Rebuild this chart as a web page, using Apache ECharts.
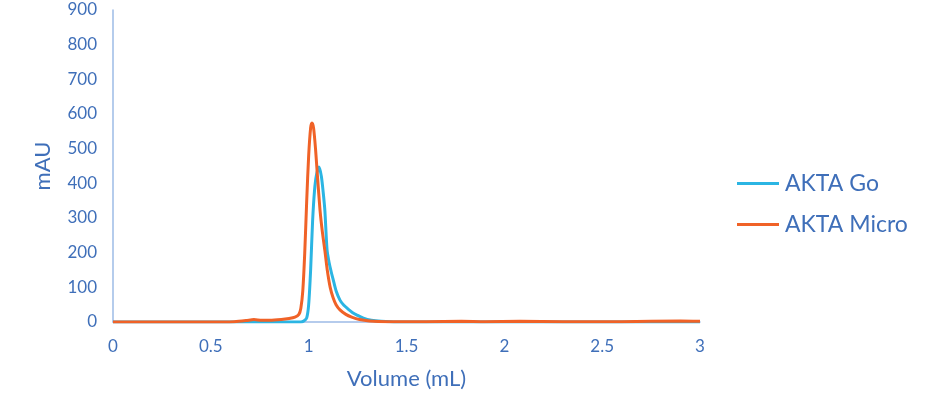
<!DOCTYPE html>
<html><head><meta charset="utf-8">
<script src="https://cdn.jsdelivr.net/npm/echarts@6/dist/echarts.min.js"></script>
<style>html,body{margin:0;padding:0;background:#fff}#c{width:940px;height:394px}</style>
</head><body><div id="c"></div>
<script>
const seriesNames = ['AKTA Go', 'AKTA Micro'];
const goX = [0, 0.5, 0.9, 0.96, 0.975, 0.99, 1.0, 1.01, 1.02, 1.03, 1.04, 1.053, 1.065, 1.075, 1.083, 1.094, 1.105, 1.115, 1.124, 1.14, 1.16, 1.18, 1.2, 1.225, 1.247, 1.28, 1.32, 1.37, 1.45, 2, 2.5, 3];
const goY = [0, 0, 0, 0, 3, 12, 50, 150, 290, 380, 425, 447, 420, 370, 320, 208, 170, 145, 125, 90, 63, 48, 38, 27, 20, 11, 5, 2, 0, 0, 0, 0];
const microX = [0, 0.5, 0.62, 0.68, 0.72, 0.76, 0.8, 0.86, 0.9, 0.93, 0.95, 0.96, 0.97, 0.98, 0.99, 1.0, 1.01, 1.017, 1.025, 1.035, 1.045, 1.058, 1.07, 1.083, 1.095, 1.11, 1.125, 1.14, 1.16, 1.19, 1.22, 1.26, 1.31, 1.4, 1.6, 1.78, 1.9, 2.08, 2.3, 2.6, 2.9, 3];
const microY = [0, 0, 1, 4, 7, 5, 5, 7, 10, 14, 22, 40, 90, 200, 350, 480, 560, 574, 560, 500, 420, 323, 260, 205, 150, 100, 70, 50, 35, 22, 14, 7, 3, 1, 1, 2, 1, 2, 1, 1, 3, 2];
const xTicks = [0, 3, 0.5];
const yTicks = [0, 900, 100];

const pairs = (xs, ys) => xs.map((x, i) => [x, ys[i]]);
const txt = '#3f6fb9';
const chart = echarts.init(document.getElementById('c'));
chart.setOption({
  animation: false,
  textStyle: { fontFamily: 'Lato' },
  grid: { left: 113, right: 240, top: 10, bottom: 72, containLabel: false, outerBoundsMode: 'none' },
  legend: {
    orient: 'vertical', left: 732, top: 167, itemGap: 18,
    icon: 'rect', itemWidth: 42, itemHeight: 3,
    textStyle: { color: txt, fontSize: 23, fontFamily: 'Lato', padding: [0, 0, 0, 1] },
    data: seriesNames
  },
  xAxis: {
    type: 'value', min: xTicks[0], max: xTicks[1], interval: xTicks[2],
    name: 'Volume (mL)', nameLocation: 'middle', nameGap: 46,
    nameTextStyle: { color: txt, fontSize: 22, fontFamily: 'Lato' },
    axisLine: { show: true, lineStyle: { color: '#9dbbe6', width: 1.5 } },
    axisTick: { show: false }, splitLine: { show: false },
    axisLabel: { color: txt, fontSize: 17, margin: 16 }
  },
  yAxis: {
    type: 'value', min: yTicks[0], max: yTicks[1], interval: yTicks[2],
    name: 'mAU', nameLocation: 'middle', nameGap: 59, nameRotate: 90,
    nameTextStyle: { color: txt, fontSize: 22, fontFamily: 'Lato' },
    axisLine: { show: true, lineStyle: { color: '#9dbbe6', width: 1.5 } },
    axisTick: { show: false }, splitLine: { show: false },
    axisLabel: { color: txt, fontSize: 17, margin: 16 }
  },
  series: [
    { name: seriesNames[0], type: 'line', data: pairs(goX, goY), showSymbol: false, symbol: 'none',
      smooth: 0.25, lineStyle: { color: '#2bb5e3', width: 3 }, itemStyle: { color: '#2bb5e3' } },
    { name: seriesNames[1], type: 'line', data: pairs(microX, microY), showSymbol: false, symbol: 'none',
      smooth: 0.25, lineStyle: { color: '#f06227', width: 3 }, itemStyle: { color: '#f06227' } }
  ]
});
</script></body></html>
